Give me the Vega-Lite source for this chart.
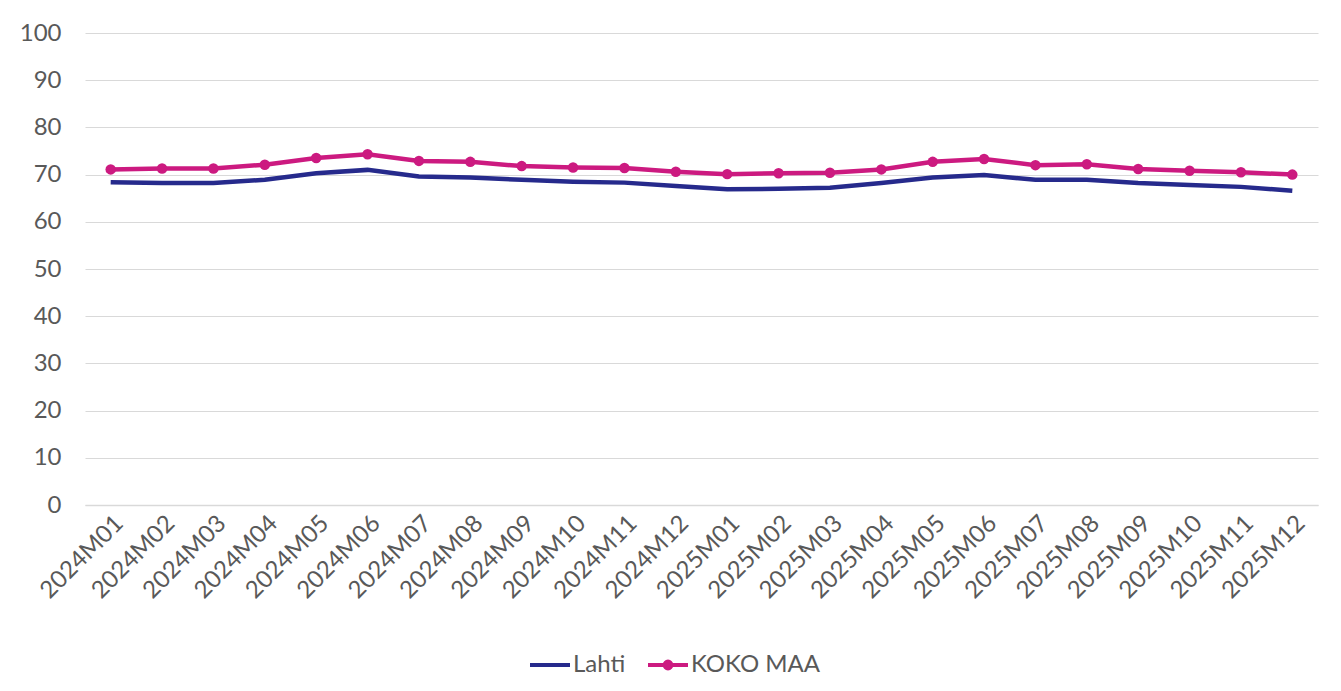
{
  "$schema": "https://vega.github.io/schema/vega-lite/v6.json",
  "width": 1233,
  "height": 472,
  "autosize": {"type": "none"},
  "padding": {"left": 85, "top": 33, "right": 23, "bottom": 186},
  "background": "white",
  "config": {
    "font": "Lato",
    "view": {"stroke": null},
    "axis": {"labelFont": "Lato", "labelColor": "#595959", "labelFontSize": 24, "titleFont": "Lato"},
    "legend": {"labelFont": "Lato", "labelColor": "#595959", "labelFontSize": 24}
  },
  "data": {
    "values": [
      {"kk": "2024M01", "sarja": "Lahti", "arvo": 68.4},
      {"kk": "2024M02", "sarja": "Lahti", "arvo": 68.2},
      {"kk": "2024M03", "sarja": "Lahti", "arvo": 68.2},
      {"kk": "2024M04", "sarja": "Lahti", "arvo": 68.9},
      {"kk": "2024M05", "sarja": "Lahti", "arvo": 70.3},
      {"kk": "2024M06", "sarja": "Lahti", "arvo": 71.0},
      {"kk": "2024M07", "sarja": "Lahti", "arvo": 69.6},
      {"kk": "2024M08", "sarja": "Lahti", "arvo": 69.4},
      {"kk": "2024M09", "sarja": "Lahti", "arvo": 68.9},
      {"kk": "2024M10", "sarja": "Lahti", "arvo": 68.5},
      {"kk": "2024M11", "sarja": "Lahti", "arvo": 68.3},
      {"kk": "2024M12", "sarja": "Lahti", "arvo": 67.6},
      {"kk": "2025M01", "sarja": "Lahti", "arvo": 66.9},
      {"kk": "2025M02", "sarja": "Lahti", "arvo": 67.0},
      {"kk": "2025M03", "sarja": "Lahti", "arvo": 67.2},
      {"kk": "2025M04", "sarja": "Lahti", "arvo": 68.2},
      {"kk": "2025M05", "sarja": "Lahti", "arvo": 69.4},
      {"kk": "2025M06", "sarja": "Lahti", "arvo": 69.9},
      {"kk": "2025M07", "sarja": "Lahti", "arvo": 68.9},
      {"kk": "2025M08", "sarja": "Lahti", "arvo": 68.9},
      {"kk": "2025M09", "sarja": "Lahti", "arvo": 68.2},
      {"kk": "2025M10", "sarja": "Lahti", "arvo": 67.8},
      {"kk": "2025M11", "sarja": "Lahti", "arvo": 67.4},
      {"kk": "2025M12", "sarja": "Lahti", "arvo": 66.6},
      {"kk": "2024M01", "sarja": "KOKO MAA", "arvo": 71.1},
      {"kk": "2024M02", "sarja": "KOKO MAA", "arvo": 71.3},
      {"kk": "2024M03", "sarja": "KOKO MAA", "arvo": 71.3},
      {"kk": "2024M04", "sarja": "KOKO MAA", "arvo": 72.1},
      {"kk": "2024M05", "sarja": "KOKO MAA", "arvo": 73.5},
      {"kk": "2024M06", "sarja": "KOKO MAA", "arvo": 74.3},
      {"kk": "2024M07", "sarja": "KOKO MAA", "arvo": 72.9},
      {"kk": "2024M08", "sarja": "KOKO MAA", "arvo": 72.7},
      {"kk": "2024M09", "sarja": "KOKO MAA", "arvo": 71.8},
      {"kk": "2024M10", "sarja": "KOKO MAA", "arvo": 71.5},
      {"kk": "2024M11", "sarja": "KOKO MAA", "arvo": 71.4},
      {"kk": "2024M12", "sarja": "KOKO MAA", "arvo": 70.6},
      {"kk": "2025M01", "sarja": "KOKO MAA", "arvo": 70.1},
      {"kk": "2025M02", "sarja": "KOKO MAA", "arvo": 70.3},
      {"kk": "2025M03", "sarja": "KOKO MAA", "arvo": 70.4},
      {"kk": "2025M04", "sarja": "KOKO MAA", "arvo": 71.1},
      {"kk": "2025M05", "sarja": "KOKO MAA", "arvo": 72.7},
      {"kk": "2025M06", "sarja": "KOKO MAA", "arvo": 73.3},
      {"kk": "2025M07", "sarja": "KOKO MAA", "arvo": 72.0},
      {"kk": "2025M08", "sarja": "KOKO MAA", "arvo": 72.2},
      {"kk": "2025M09", "sarja": "KOKO MAA", "arvo": 71.2},
      {"kk": "2025M10", "sarja": "KOKO MAA", "arvo": 70.8},
      {"kk": "2025M11", "sarja": "KOKO MAA", "arvo": 70.5},
      {"kk": "2025M12", "sarja": "KOKO MAA", "arvo": 70.0}
    ]
  },
  "encoding": {
    "x": {
      "field": "kk", "type": "ordinal",
      "scale": {"type": "point", "padding": 0.5},
      "axis": {"title": null, "labelAngle": -45, "ticks": false, "domain": true, "domainColor": "#d9d9d9", "domainWidth": 1.5, "labelPadding": 6, "grid": false}
    },
    "y": {
      "field": "arvo", "type": "quantitative",
      "scale": {"domain": [0, 100], "nice": false},
      "axis": {"title": null, "values": [0,10,20,30,40,50,60,70,80,90,100], "ticks": false, "domain": false, "grid": true, "gridColor": "#d9d9d9", "gridWidth": 1.2, "labelPadding": 24}
    },
    "color": {
      "field": "sarja", "type": "nominal",
      "scale": {"domain": ["Lahti", "KOKO MAA"], "range": ["#262a8c", "#cc1a80"]},
      "legend": {
        "title": null, "orient": "none", "direction": "horizontal", "legendX": 443, "legendY": 610,
        "symbolType": "stroke", "symbolStrokeWidth": 4, "symbolSize": 1600, "columnPadding": 14, "labelOffset": 1,
        "encode": {
          "symbols": {
            "update": {
              "shape": {"signal": "datum.value === 'KOKO MAA' ? 'M-1,0L1,0M0.17,0A0.17,0.17,0,1,1,-0.17,0A0.17,0.17,0,1,1,0.17,0Z' : 'stroke'"},
              "fill": {"signal": "datum.value === 'KOKO MAA' ? '#cc1a80' : 'transparent'"}
            }
          }
        }
      }
    }
  },
  "layer": [
    {"mark": {"type": "line", "strokeWidth": 4.5}},
    {"transform": [{"filter": "datum.sarja === 'KOKO MAA'"}], "mark": {"type": "circle", "size": 110, "opacity": 1}}
  ]
}
